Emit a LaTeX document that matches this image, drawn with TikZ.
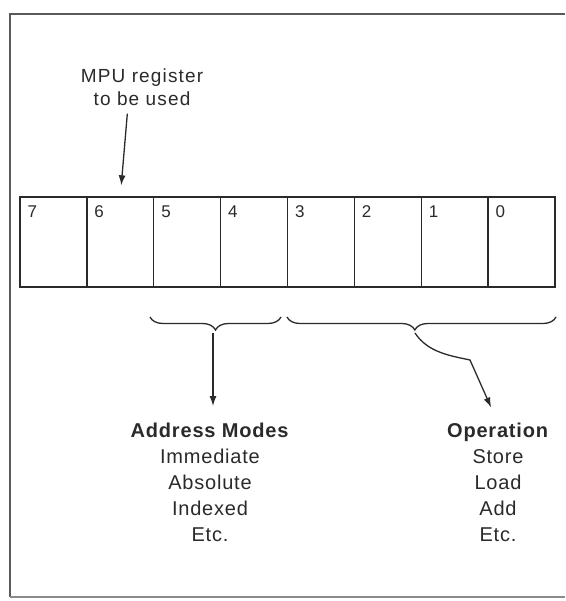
\documentclass[tikz,border=0pt]{standalone}
\usepackage{fontspec}
\setmainfont{Liberation Sans}
\usetikzlibrary{arrows.meta,decorations.pathreplacing,positioning}
\definecolor{scan-ink}{HTML}{2A2A2A}
\definecolor{frame-grey}{HTML}{5A5A5A}

\begin{document}
\begin{tikzpicture}[x=1pt, y=-1pt,
      every node/.style={text=scan-ink},
      cell/.style={draw=scan-ink, line width=1.4pt, minimum width=66.875pt,
                   minimum height=90pt, inner sep=0pt},
      digit/.style={font=\fontsize{17}{20}\selectfont, anchor=north west,
                    inner sep=0pt},
      note/.style={font=\fontsize{19}{23}\selectfont\addfontfeature{LetterSpace=6},
                   align=center, inner sep=0pt},
      modelist/.style={font=\fontsize{20}{26}\selectfont\addfontfeature{LetterSpace=4},
                       align=center, anchor=north, inner sep=0pt},
      brace/.style={draw=scan-ink, line width=1.3pt,
                    decorate, decoration={brace, mirror, amplitude=13pt}},
      arrow/.style={draw=scan-ink, line width=1.3pt,
                    -{Latex[length=10pt,width=7pt]}}]
    \useasboundingbox (0,0) rectangle (565,601);
    % frame, open on the right
    \draw[frame-grey, line width=1.8pt] (565,14) -- (10,14) -- (10,597);
    \draw[frame-grey!70, line width=1.4pt] (10,597) -- (565,597);
    % the eight bits
    \foreach \i in {0,...,7}
      \node[cell] (b\i) at ({20+66.875*(7-\i)+33.44},242) {};
    \foreach \i in {0,...,7}
      \node[digit] (d\i) at ([xshift=8pt,yshift=-9pt]b\i.north west) {\i};
    % register note
    \node[note] (MPU) at (142,87) {MPU register\\to be used};
    \draw[arrow, shorten <=8pt, shorten >=11pt]
      ([xshift=-14pt]MPU.south) -- (b6.north);
    % fields
    \draw[brace] (150,317) -- (281,317);
    \draw[brace, decoration={aspect=0.475}] (287,317) -- (556,317);
    \coordinate (amtip) at (213,333);
    \coordinate (optip) at (415,333);
    \node[modelist] (AM) at (210,423)
      {\textbf{Address Modes}\\Immediate\\Absolute\\Indexed\\Etc.};
    \node[modelist] (OP) at (498,423)
      {\textbf{Operation}\\Store\\Load\\Add\\Etc.};
    \draw[arrow, shorten >=17pt] (amtip) -- (amtip |- AM.north);
    \draw[arrow, shorten >=17pt] (optip) .. controls (428,353) and (452,356)
      .. (470,360) -- (OP.north);
\end{tikzpicture}
\end{document}
